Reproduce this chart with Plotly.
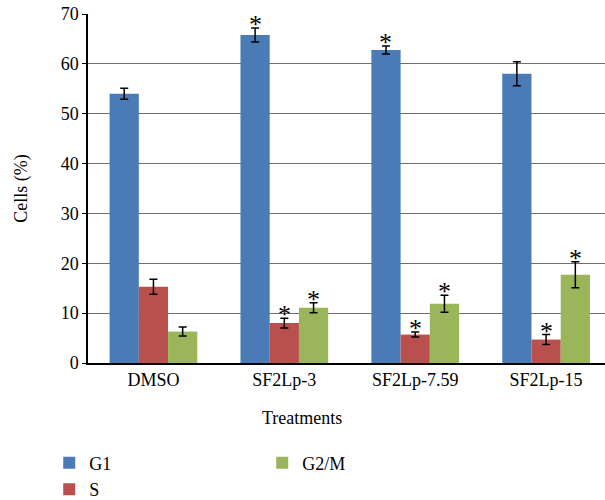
import plotly.graph_objects as go

categories = ["DMSO", "SF2Lp-3", "SF2Lp-7.59", "SF2Lp-15"]
series_names = ["G1", "S", "G2/M"]
g1 = [54.0, 65.8, 62.8, 58.0]
s_phase = [15.3, 8.0, 5.7, 4.7]
g2m = [6.3, 11.1, 11.9, 17.7]
g1_err = [1.1, 1.4, 0.8, 2.4]
s_err = [1.5, 1.0, 0.5, 1.0]
g2m_err = [0.9, 1.0, 1.7, 2.6]
g1_sig = [False, True, True, False]
s_sig = [False, True, True, True]
g2m_sig = [False, True, True, True]
y_ticks = [0, 10, 20, 30, 40, 50, 60, 70]

colors = ["#4A7BB6", "#B9504D", "#9AB55A"]
values = [g1, s_phase, g2m]
errors = [g1_err, s_err, g2m_err]
sigs = [g1_sig, s_sig, g2m_sig]
ranks = [1, 3, 2]

FONT = "Liberation Serif"
bargap = 0.33
W, H = 605, 500
L, R, T = 88, 0, 14
ph = 349
B = H - T - ph
pw = W - L - R

fig = go.Figure()
for name, vals, errs, col, rk in zip(series_names, values, errors, colors, ranks):
    fig.add_trace(go.Bar(
        name=name, x=categories, y=vals, marker=dict(color=col, line=dict(width=0)),
        error_y=dict(type="data", array=errs, visible=True, color="black",
                     thickness=1.5, width=4),
        legendrank=rk,
    ))

# significance asterisks above error bars
n = len(series_names)
slot = (1 - bargap) / n
for j, (vals, errs, sg) in enumerate(zip(values, errors, sigs)):
    for i, cat in enumerate(categories):
        if sg[i]:
            fig.add_annotation(
                x=i + (j - (n - 1) / 2) * slot, y=vals[i] + errs[i],
                xref="x", yref="y", text="*", showarrow=False,
                yanchor="bottom", yshift=-13,
                font=dict(family=FONT, size=26, color="black"),
            )

fig.add_annotation(
    x=(302 - L) / pw, xref="paper", y=-(418 - 363) / ph, yref="paper",
    text="Treatments", showarrow=False, yanchor="middle",
    font=dict(family=FONT, size=18, color="black"),
)

fig.update_layout(
    width=W, height=H,
    margin=dict(l=L, r=R, t=T, b=B, autoexpand=False),
    plot_bgcolor="white", paper_bgcolor="white",
    barmode="group", bargap=bargap, bargroupgap=0,
    font=dict(family=FONT, size=18, color="black"),
    showlegend=True,
    legend=dict(orientation="h", x=-0.075, xanchor="left", y=-0.234, yanchor="top",
                entrywidth=168, font=dict(family=FONT, size=18),
                traceorder="normal", itemwidth=30, bgcolor="rgba(0,0,0,0)"),
)
fig.update_xaxes(
    range=[-0.5, 3.45], showgrid=False, showline=True, linecolor="black", linewidth=1.5,
    ticks="", tickfont=dict(family=FONT, size=18),
)
fig.update_yaxes(
    range=[0, 70], tickvals=y_ticks, showgrid=True, gridcolor="#6f6f6f", gridwidth=1,
    showline=True, linecolor="black", linewidth=1.5, ticks="outside", ticklen=4,
    tickcolor="black", zeroline=False, ticklabeloverflow="allow",
    title=dict(text="Cells (%)", font=dict(family=FONT, size=18), standoff=28),
    tickfont=dict(family=FONT, size=18),
)

fig.write_html("out.html", config={"displayModeBar": False},
               post_script="document.body.style.margin='0';")
